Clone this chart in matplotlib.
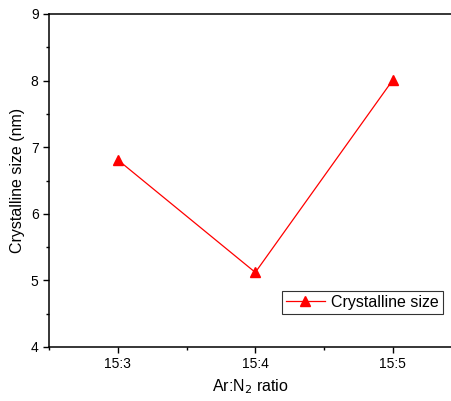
import matplotlib
matplotlib.use("Agg")
import matplotlib.pyplot as plt
from matplotlib.ticker import MultipleLocator

plt.rcParams["font.family"] = ["Liberation Sans", "DejaVu Sans"]

# data
ratios = ["15:3", "15:4", "15:5"]
sizes = [6.81, 5.12, 8.01]
xpos = [1, 2, 3]

fig = plt.figure(figsize=(4.52, 4.01), dpi=100)
ax = fig.add_axes([49 / 452, 54 / 401, 1 - 49 / 452, 333 / 401])

ax.plot(xpos, sizes, color="red", lw=0.9, marker="^", ms=7.5,
        label="Crystalline size")

ax.set_xlim(0.5, 3.43)
ax.set_ylim(4, 9)
ax.set_xticks(xpos)
ax.set_xticklabels(ratios)
ax.xaxis.set_minor_locator(MultipleLocator(0.5))
ax.yaxis.set_major_locator(MultipleLocator(1))
ax.yaxis.set_minor_locator(MultipleLocator(0.5))
ax.tick_params(which="major", direction="out", length=4, width=1, labelsize=10)
ax.tick_params(which="minor", direction="out", length=2, width=1)
ax.spines["right"].set_visible(False)
for s in ["left", "bottom", "top"]:
    ax.spines[s].set_linewidth(1.1)

ax.set_xlabel("Ar:N$_2$ ratio", fontsize=11.5)
ax.set_ylabel("Crystalline size (nm)", fontsize=11.5)

leg = ax.legend(loc="lower right", bbox_to_anchor=(0.977, 0.10), fontsize=11.5,
                frameon=True, fancybox=False, edgecolor="black",
                handlelength=2.4, handletextpad=0.4, borderpad=0.25,
                borderaxespad=0)
leg.get_frame().set_linewidth(0.8)

fig.savefig("out.png", dpi=100)
